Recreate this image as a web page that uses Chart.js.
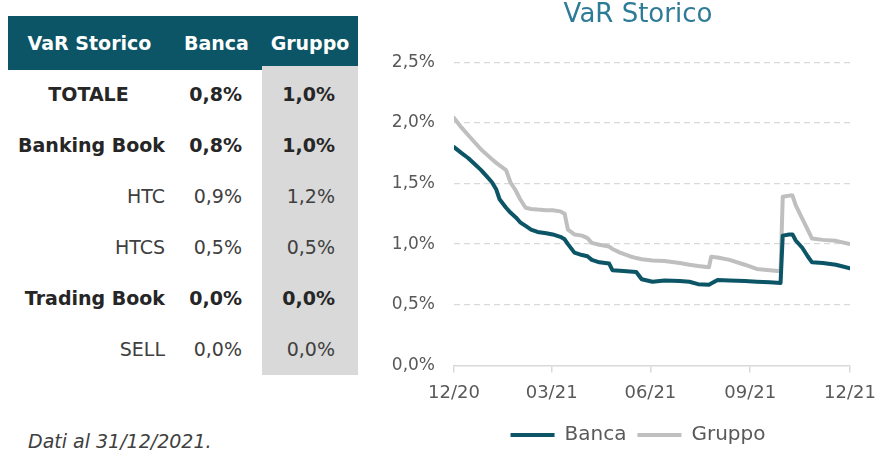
<!DOCTYPE html>
<html><head><meta charset="utf-8">
<script src="https://cdn.jsdelivr.net/npm/chart.js@4/dist/chart.umd.min.js"></script>
<style>
body{margin:0;width:877px;height:454px;position:relative;background:#fff;font-family:"DejaVu Sans",sans-serif;overflow:hidden}
.abs{position:absolute;white-space:nowrap}
#hdr{left:8px;top:16px;width:350px;height:54px;background:#0b5566}
#gcol{left:262px;top:66px;width:96px;height:309px;background:#d9d9d9}
#chartbox{position:absolute;left:370px;top:0;width:507px;height:455px}
.h{color:#fff;font-weight:bold;font-size:19px;line-height:24px;height:24px;top:31px;text-align:center;width:140px}
.cell{font-size:19px;line-height:24px;height:24px;width:200px;text-align:right}
.b{font-weight:bold;color:#262626}
.n{color:#404040}
#note{left:28px;top:429px;font-size:19px;line-height:24px;font-style:italic;color:#404040}
</style></head><body>
<div id="hdr" class="abs"></div>
<div id="gcol" class="abs"></div>
<div id="tbl"></div>
<div id="note" class="abs">Dati al 31/12/2021.</div>
<div id="chartbox"><canvas id="c"></canvas></div>
<script>
// ---- table data ----
const tableHeaders = ['VaR Storico', 'Banca', 'Gruppo'];
const rowLabels = ['TOTALE', 'Banking Book', 'HTC', 'HTCS', 'Trading Book', 'SELL'];
const rowBanca  = ['0,8%', '0,8%', '0,9%', '0,5%', '0,0%', '0,0%'];
const rowGruppo = ['1,0%', '1,0%', '1,2%', '0,5%', '0,0%', '0,0%'];
const rowBold   = [true, true, false, false, true, false];

// ---- chart data (days since 31/12/2020) ----
const days   = [0, 7, 13, 19, 25, 30, 35, 39, 42, 48, 52, 57, 61, 66, 71, 77, 85, 91, 98, 102, 105, 111, 118, 123, 127, 134, 143, 146, 153, 162, 168, 173, 183, 194, 208, 217, 225, 235, 237, 243, 254, 268, 279, 291, 301, 303, 309, 312, 315, 321, 326, 330, 340, 352, 365];
const banca  = [1.80, 1.75, 1.71, 1.66, 1.61, 1.56, 1.51, 1.45, 1.37, 1.30, 1.26, 1.22, 1.18, 1.15, 1.12, 1.10, 1.09, 1.08, 1.06, 1.04, 1.00, 0.93, 0.91, 0.90, 0.87, 0.85, 0.84, 0.785, 0.78, 0.775, 0.77, 0.71, 0.69, 0.70, 0.695, 0.69, 0.67, 0.665, 0.675, 0.705, 0.70, 0.695, 0.69, 0.685, 0.68, 1.07, 1.08, 1.08, 1.03, 0.97, 0.90, 0.85, 0.845, 0.83, 0.80];
const gruppo = [2.04, 1.96, 1.90, 1.84, 1.78, 1.74, 1.70, 1.67, 1.65, 1.61, 1.51, 1.44, 1.37, 1.30, 1.29, 1.285, 1.28, 1.28, 1.27, 1.25, 1.12, 1.08, 1.07, 1.05, 1.01, 0.995, 0.98, 0.96, 0.93, 0.90, 0.885, 0.875, 0.865, 0.86, 0.845, 0.83, 0.82, 0.81, 0.895, 0.89, 0.87, 0.83, 0.795, 0.785, 0.777, 1.39, 1.40, 1.40, 1.32, 1.21, 1.12, 1.046, 1.035, 1.027, 1.00];
const xTickDays   = [0, 90, 181, 273, 365];
const xTickLabels = ['12/20', '03/21', '06/21', '09/21', '12/21'];
const yTickLabels = ['0,0%', '0,5%', '1,0%', '1,5%', '2,0%', '2,5%'];
const seriesNames = ['Banca', 'Gruppo'];
const chartTitle = 'VaR Storico';

// ---- build table ----
const tbl = document.getElementById('tbl');
function addDiv(cls, text, left, top, extra) {
  const d = document.createElement('div');
  d.className = 'abs ' + cls;
  d.textContent = text;
  d.style.left = left + 'px';
  d.style.top = top + 'px';
  if (extra) Object.assign(d.style, extra);
  tbl.appendChild(d);
}
const hdrCenters = [89.5, 216.5, 310];
tableHeaders.forEach((t, i) => addDiv('h', t, hdrCenters[i] - 70, 31));
rowLabels.forEach((lab, i) => {
  const cy = 93.5 + 51 * i;
  const top = cy - 12;
  const cls = 'cell ' + (rowBold[i] ? 'b' : 'n');
  if (i === 0) addDiv(cls, lab, 88.5 - 100, top, {textAlign: 'center'});
  else addDiv(cls, lab, 165 - 200, top);
  addDiv(cls, rowBanca[i], 242 - 200, top);
  addDiv(cls, rowGruppo[i], 335 - 200, top);
});

// ---- chart ----
const F = "'DejaVu Sans', sans-serif";
// centre title and legend a little right of the canvas centre, as in the reference
const shiftHeaderLegend = {
  id: 'shiftHeaderLegend',
  afterLayout(chart) {
    [chart.titleBlock, chart.legend].forEach(b => { if (b) { b.left += 28; b.right += 28; } });
  }
};
new Chart(document.getElementById('c'), {
  type: 'line',
  data: {
    datasets: [
      {label: seriesNames[0], data: days.map((d, i) => ({x: d, y: banca[i]})), borderColor: '#0b5566', backgroundColor: '#0b5566', borderWidth: 4},
      {label: seriesNames[1], data: days.map((d, i) => ({x: d, y: gruppo[i]})), borderColor: '#bfbfbf', backgroundColor: '#bfbfbf', borderWidth: 4}
    ]
  },
  plugins: [shiftHeaderLegend],
  options: {
    responsive: true, maintainAspectRatio: false, animation: false,
    layout: {padding: {left: 0, right: 27, top: 0, bottom: 0}},
    elements: {point: {radius: 0}, line: {tension: 0, borderJoinStyle: 'round', borderCapStyle: 'round'}},
    plugins: {
      title: {display: true, text: chartTitle, color: '#2e7b98', font: {family: F, size: 26, weight: 'normal'}, padding: {top: 0, bottom: 31}},
      legend: {position: 'bottom', labels: {usePointStyle: true, pointStyle: 'line', pointStyleWidth: 44, color: '#595959', font: {family: F, size: 20}, padding: 11}},
      tooltip: {enabled: false}
    },
    scales: {
      x: {
        type: 'linear', min: 0, max: 365,
        afterBuildTicks: s => { s.ticks = xTickDays.map(v => ({value: v})); },
        afterFit: s => { s.paddingLeft = 0; s.paddingRight = 0; },
        ticks: {callback: v => xTickLabels[xTickDays.indexOf(v)], color: '#595959', font: {family: F, size: 18}, padding: 10, maxRotation: 0, autoSkip: false},
        grid: {display: true, drawOnChartArea: false, drawTicks: true, tickLength: 7, color: '#d9d9d9', lineWidth: 1.5},
        border: {display: true, color: '#d9d9d9', width: 1.5}
      },
      y: {
        min: 0, max: 2.5,
        afterFit: s => { s.width = 84; },
        ticks: {stepSize: 0.5, callback: (v, i) => yTickLabels[i], color: '#595959', font: {family: F, size: 17}, padding: 19},
        grid: {drawTicks: false, color: c => (c.tick && c.tick.value === 0) ? 'rgba(0,0,0,0)' : '#d9d9d9', lineWidth: 1.3},
        border: {display: false, dash: [6, 4]}
      }
    }
  }
});
</script>
</body></html>
